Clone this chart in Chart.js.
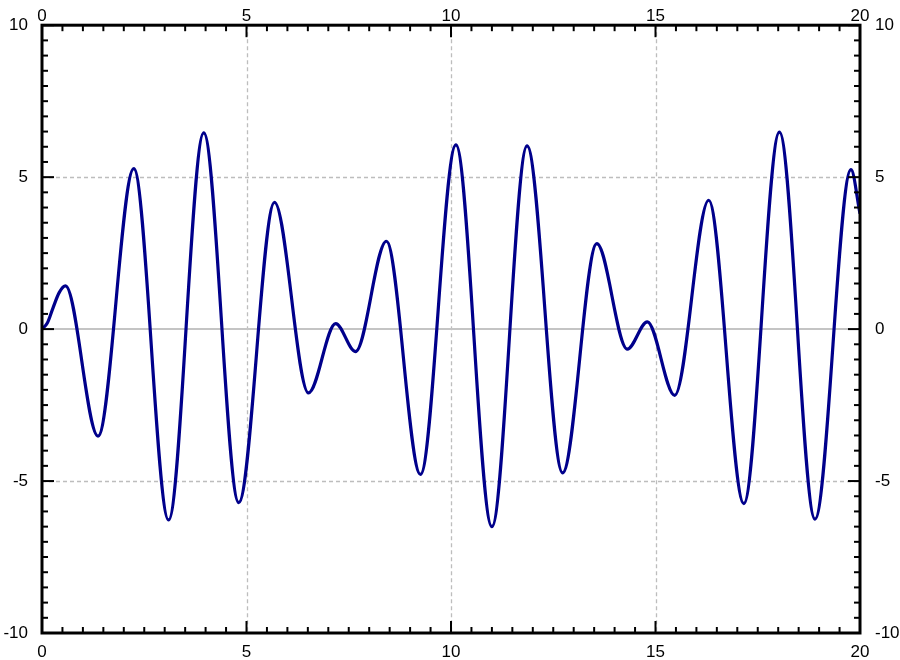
<!DOCTYPE html>
<html>
<head>
<meta charset="utf-8">
<title>Curve</title>
<script src="https://cdn.jsdelivr.net/npm/chart.js@4/dist/chart.umd.min.js"></script>
<style>
    html, body { margin: 0; padding: 0; background: #fff; }
    #wrap { width: 900px; height: 660px; }
</style>
</head>
<body>
<div id="wrap"><canvas id="chart" width="900" height="660"></canvas></div>
<script>
// Points: the start, every peak and trough, and the end.
var xValues = [
    0, 0.13, 0.27, 0.42, 0.575, 1.37, 2.245, 3.095, 3.955, 4.81,
    5.685, 6.516, 7.18, 7.665, 8.42, 9.254, 10.12, 11.0, 11.86, 12.73,
    13.565, 14.31, 14.80, 15.47, 16.30, 17.16, 18.03, 18.90, 19.78, 20.0
];
var yValues = [
    0, 0.2, 0.7, 1.2, 1.42, -3.52, 5.28, -6.28, 6.46, -5.71,
    4.17, -2.10, 0.18, -0.74, 2.89, -4.78, 6.06, -6.50, 6.03, -4.73,
    2.81, -0.66, 0.24, -2.18, 4.24, -5.74, 6.48, -6.25, 5.25, 3.8
];
var xTicks = [0, 5, 10, 15, 20];
var yTicks = [-10, -5, 0, 5, 10];

(function () {

    var lineColor = '#00008b';
    var gridColor = '#bdbdbd';
    var zeroColor = '#c4c4c4';
    var minorStep = 0.5;
    var majorStep = 5;
    var labelFont = {family: '"Liberation Sans", Arial, sans-serif', size: 17};

    var points = xValues.map(function (x, i) {
        return {x: x, y: yValues[i]};
    });

    function useTicks(values) {
        return function (scale) {
            scale.ticks = values.map(function (v) {
                return {value: v};
            });
        };
    }

    function axis(position, min, max, values, size, pad) {
        var horizontal = position === 'top' || position === 'bottom';
        return {
            type: 'linear',
            position: position,
            min: min,
            max: max,
            afterBuildTicks: useTicks(values),
            afterFit: function (scale) {
                if (horizontal) {
                    scale.height = size;
                } else {
                    scale.width = size;
                }
            },
            grid: {display: false, drawTicks: false},
            border: {display: false},
            ticks: {
                font: labelFont,
                color: '#000',
                padding: pad,
                autoSkip: false,
                maxRotation: 0,
                callback: function (v) {
                    return String(v);
                }
            }
        };
    }

    function stroke(ctx, x1, y1, x2, y2) {
        ctx.beginPath();
        ctx.moveTo(x1, y1);
        ctx.lineTo(x2, y2);
        ctx.stroke();
    }

    /**
     * Grid below the curve, ticks and frame above it.
     */
    var framePlugin = {
        id: 'frame',
        beforeDatasetsDraw: function (chart) {
            var ctx = chart.ctx;
            var area = chart.chartArea;
            var xs = chart.scales.x;
            var ys = chart.scales.y;

            ctx.save();
            ctx.lineWidth = 1.3;
            ctx.strokeStyle = gridColor;
            ctx.setLineDash([4, 3]);
            xTicks.forEach(function (v) {
                if (v <= xs.min || v >= xs.max) return;
                var px = Math.round(xs.getPixelForValue(v)) + 0.5;
                stroke(ctx, px, area.top, px, area.bottom);
            });
            yTicks.forEach(function (v) {
                if (v <= ys.min || v >= ys.max || v === 0) return;
                var py = Math.round(ys.getPixelForValue(v)) + 0.5;
                stroke(ctx, area.left, py, area.right, py);
            });

            // Solid zero line.
            ctx.setLineDash([]);
            ctx.strokeStyle = zeroColor;
            ctx.lineWidth = 2;
            var zy = Math.round(ys.getPixelForValue(0));
            stroke(ctx, area.left, zy, area.right, zy);
            ctx.restore();
        },
        afterDatasetsDraw: function (chart) {
            var ctx = chart.ctx;
            var area = chart.chartArea;
            var xs = chart.scales.x;
            var ys = chart.scales.y;
            var i, n, v, p, len;

            ctx.save();
            ctx.strokeStyle = '#000';
            ctx.lineWidth = 2;

            n = Math.round((xs.max - xs.min) / minorStep);
            for (i = 0; i <= n; i++) {
                v = xs.min + i * minorStep;
                len = Math.abs(v % majorStep) < 1e-9 ? 12 : 6;
                p = xs.getPixelForValue(v);
                stroke(ctx, p, area.bottom, p, area.bottom - len);
                stroke(ctx, p, area.top, p, area.top + len);
            }

            n = Math.round((ys.max - ys.min) / minorStep);
            for (i = 0; i <= n; i++) {
                v = ys.min + i * minorStep;
                len = Math.abs(v % majorStep) < 1e-9 ? 12 : 6;
                p = ys.getPixelForValue(v);
                stroke(ctx, area.left, p, area.left + len, p);
                stroke(ctx, area.right, p, area.right - len, p);
            }

            ctx.lineWidth = 3;
            ctx.strokeRect(area.left, area.top, area.right - area.left, area.bottom - area.top);
            ctx.restore();
        }
    };

    new Chart(document.getElementById('chart'), {
        type: 'line',
        data: {
            datasets: [
                {
                    data: points,
                    borderColor: lineColor,
                    borderWidth: 3.2,
                    pointRadius: 0,
                    fill: false,
                    cubicInterpolationMode: 'monotone',
                    xAxisID: 'x',
                    yAxisID: 'y'
                }
            ]
        },
        options: {
            responsive: false,
            animation: false,
            devicePixelRatio: 1,
            layout: {padding: 0},
            plugins: {
                legend: {display: false},
                tooltip: {enabled: false}
            },
            scales: {
                x: axis('bottom', 0, 20, xTicks, 27, 9),
                xTop: axis('top', 0, 20, xTicks, 20, -1),
                y: axis('left', -10, 10, yTicks, 42, 14),
                yRight: axis('right', -10, 10, yTicks, 40, 15)
            }
        },
        plugins: [framePlugin]
    });

}());
</script>
</body>
</html>
